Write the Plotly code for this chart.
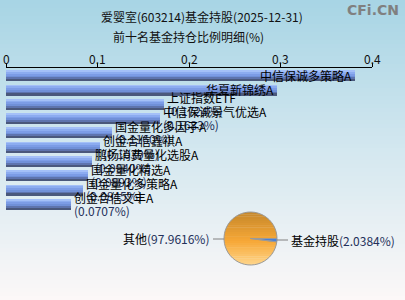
import math
import plotly.graph_objects as go

# ---------------- data ----------------
title_text = "爱婴室(603214)基金持股(2025-12-31)"
subtitle_text = "前十名基金持仓比例明细(%)"
funds = ["中信保诚多策略A", "华夏新锦绣A", "上证指数ETF", "中信保诚景气优选A", "国金量化多因子A",
         "创金合信鑫祺A", "鹏扬消费量化选股A", "国金量化精选A", "国金量化多策略A", "创金合信文丰A"]
ratios = [0.3810, 0.2965, 0.1724, 0.1683, 0.1160, 0.1030, 0.0940, 0.0893, 0.0845, 0.0707]
x_ticks = [0, 0.1, 0.2, 0.3, 0.4]
x_tick_labels = ["0", "0.1", "0.2", "0.3", "0.4"]
pie_labels = ["基金持股", "其他"]
pie_values = [2.0384, 97.9616]

# ---------------- styling ----------------
W, H = 405, 300
FONT = "Noto Sans CJK SC"
stripe_colors = ["#a4c0f8", "#8cacf0", "#7c9ce6", "#7090d8", "#5e74ae", "#4a587c"]
bar_w = 0.74

fig = go.Figure()
pos = list(range(len(funds)))
n = len(stripe_colors)
for i, c in enumerate(stripe_colors):
    fig.add_trace(go.Bar(
        x=ratios, y=pos, orientation="h",
        width=bar_w / n, offset=-bar_w / 2 + i * bar_w / n,
        marker=dict(color=c, line=dict(width=0)),
        hoverinfo="skip", showlegend=False,
    ))

annotations = []
for i, (name, v) in enumerate(zip(funds, ratios)):
    if i < 2:
        annotations.append(dict(x=v, y=i, xref="x", yref="y", text=name, showarrow=False,
                                xanchor="right", yanchor="middle", xshift=-1, yshift=1,
                                font=dict(family=FONT, size=12, color="#000")))
    else:
        annotations.append(dict(x=v, y=i, xref="x", yref="y", text=name, showarrow=False,
                                xanchor="left", yanchor="middle", xshift=1, yshift=7,
                                font=dict(family=FONT, size=12, color="#000")))
        annotations.append(dict(x=v, y=i, xref="x", yref="y", text="(%.4f%%)" % v, showarrow=False,
                                xanchor="left", yanchor="middle", xshift=1, yshift=-5.5,
                                font=dict(family=FONT, size=12, color="#23305a")))

# tick labels (placed just above the top axis)
for tv, tl in zip(x_ticks, x_tick_labels):
    annotations.append(dict(x=tv, y=1 - 58 / H, xref="x", yref="paper", text=tl, showarrow=False,
                            xanchor="center", yanchor="middle",
                            font=dict(family=FONT, size=12, color="#111")))

# titles
annotations.append(dict(x=202 / W, y=1 - 16 / H, xref="paper", yref="paper", text=title_text,
                        showarrow=False, xanchor="center", yanchor="middle",
                        font=dict(family=FONT, size=12, color="#111")))
annotations.append(dict(x=188 / W, y=1 - 37 / H, xref="paper", yref="paper", text=subtitle_text,
                        showarrow=False, xanchor="center", yanchor="middle",
                        font=dict(family=FONT, size=12, color="#111")))
annotations.append(dict(x=401 / W, y=1 - 10 / H, xref="paper", yref="paper", text="<b>CFi.CN</b>",
                        showarrow=False, xanchor="right", yanchor="middle",
                        font=dict(family="DejaVu Sans", size=14, color="#808080")))

# pie
cx, cy, r = 250.5, 238.5, 26.5
fig.add_trace(go.Pie(
    labels=pie_labels, values=pie_values, sort=False, direction="clockwise", rotation=90,
    marker=dict(colors=["#4a80d6", "rgba(0,0,0,0)"], line=dict(color="#9a9a9a", width=1)),
    textinfo="none", hoverinfo="skip", showlegend=False,
    domain=dict(x=[(cx - r) / W, (cx + r) / W], y=[(H - cy - r) / H, (H - cy + r) / H]),
))
annotations.append(dict(x=211 / W, y=1 - 238 / H, xref="paper", yref="paper",
                        text="其他<span style='color:#23305a'>(%.4f%%)</span>" % pie_values[1],
                        showarrow=False, xanchor="right", yanchor="middle",
                        font=dict(family=FONT, size=12, color="#000")))
annotations.append(dict(x=289 / W, y=1 - 240 / H, xref="paper", yref="paper",
                        text="基金持股<span style='color:#23305a'>(%.4f%%)</span>" % pie_values[0],
                        showarrow=False, xanchor="left", yanchor="middle",
                        font=dict(family=FONT, size=12, color="#000")))

shapes = []


def lerp3(a, b, u):
    return tuple(int(a[j] + (b[j] - a[j]) * u) for j in range(3))


# background gradient
top = (168, 213, 229)
mid = (212, 232, 240)
bot = (252, 248, 248)
steps = 75
for k in range(steps):
    t = k / (steps - 1)
    c = lerp3(top, mid, t / 0.5) if t < 0.5 else lerp3(mid, bot, (t - 0.5) / 0.5)
    shapes.append(dict(type="rect", xref="paper", yref="paper", x0=0, x1=1,
                       y0=1 - (k + 1) / steps - 0.002, y1=1 - k / steps,
                       fillcolor="rgb(%d,%d,%d)" % c, line=dict(width=0), layer="below"))

# pie body gradient (decoration under the transparent "其他" slice)
p_top = (198, 136, 44)
p_mid = (247, 168, 55)
p_bot = (255, 214, 140)
ps = 24
for k in range(ps):
    y1p = cy - r + 2 * r * k / ps
    y2p = cy - r + 2 * r * (k + 1) / ps + 0.4
    y2p = min(y2p, cy + r)
    pts = []
    m = 8
    for j in range(m + 1):
        yy = y1p + (y2p - y1p) * j / m
        dx = math.sqrt(max(r * r - (yy - cy) ** 2, 0))
        pts.append((cx + dx, yy))
    for j in range(m, -1, -1):
        yy = y1p + (y2p - y1p) * j / m
        dx = math.sqrt(max(r * r - (yy - cy) ** 2, 0))
        pts.append((cx - dx, yy))
    path = "M " + " L ".join("%.5f,%.5f" % (px / W, 1 - py / H) for px, py in pts) + " Z"
    t = (k + 0.5) / ps
    c = lerp3(p_top, p_mid, t / 0.55) if t < 0.55 else lerp3(p_mid, p_bot, (t - 0.55) / 0.45)
    shapes.append(dict(type="path", xref="paper", yref="paper", path=path,
                       fillcolor="rgb(%d,%d,%d)" % c, line=dict(width=0), layer="below"))

# pie leader lines
shapes.append(dict(type="line", xref="paper", yref="paper", x0=213 / W, x1=(cx - r) / W,
                   y0=1 - 239 / H, y1=1 - 239 / H, line=dict(color="#808080", width=1)))
shapes.append(dict(type="line", xref="paper", yref="paper", x0=(cx + r) / W, x1=288 / W,
                   y0=1 - 240 / H, y1=1 - 240 / H, line=dict(color="#808080", width=1)))

# y axis mapping: bar 0 center at 76px, spacing 14.3px; plot area from 68px to 215px
top_px, bot_px = 68, 215
sp = 14.3
lo = -(76 - top_px) / sp
hi = lo + (bot_px - top_px) / sp

fig.update_layout(
    width=W, height=H, margin=dict(l=0, r=0, t=0, b=0),
    paper_bgcolor="#ffffff", plot_bgcolor="rgba(0,0,0,0)",
    barmode="overlay", bargap=0,
    xaxis=dict(domain=[6 / W, 372 / W], range=[0, 0.4], side="top", anchor="y",
               tickvals=x_ticks, showticklabels=False, ticks="outside", ticklen=4,
               tickcolor="#000", showline=True, linecolor="#000", linewidth=1,
               showgrid=False, zeroline=False),
    yaxis=dict(domain=[1 - bot_px / H, 1 - top_px / H], range=[hi, lo],
               showticklabels=False, showgrid=False, zeroline=False, showline=False, ticks=""),
    annotations=annotations, shapes=shapes,
)

fig.write_html("out.html")
